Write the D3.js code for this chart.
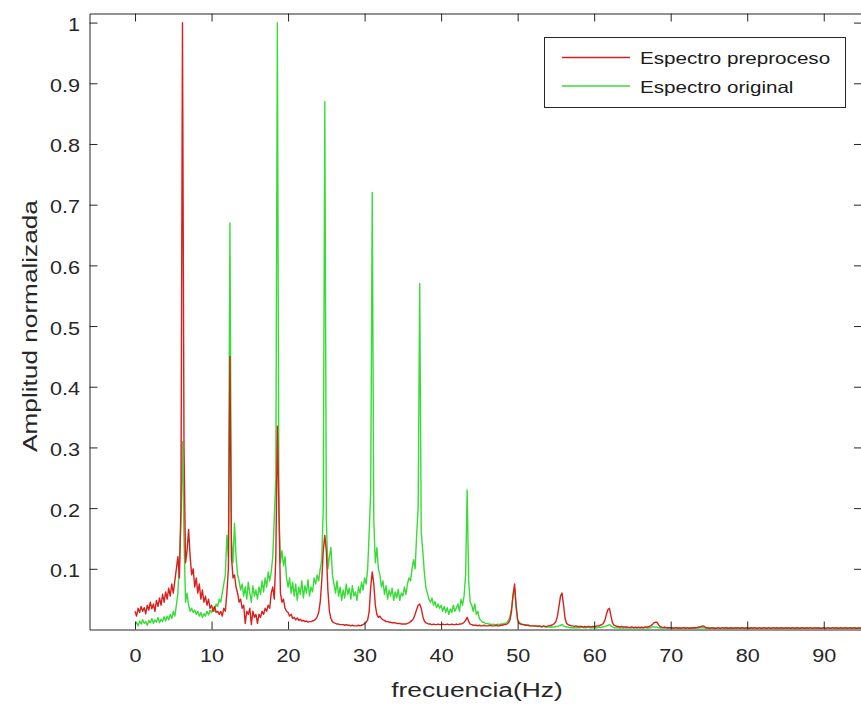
<!DOCTYPE html>
<html>
<head>
<meta charset="utf-8">
<script src="https://cdn.jsdelivr.net/npm/d3@7"></script>
<style>
  body { margin: 0; background: #fff; }
  svg { display: block; font-family: "Liberation Sans", Arial, sans-serif; }
</style>
</head>
<body>
<div id="chart"></div>
<script>
// ---------------------------------------------------------- //
// Data: normalized spectra sampled every 0.2 Hz, 0 .. 95 Hz   //
// ---------------------------------------------------------- //
var fStep = 0.2;

var preproceso = [
  0.030,0.022,0.035,0.028,0.038,0.030,0.036,0.026,0.040,0.032, // 0
  0.045,0.034,0.042,0.030,0.048,0.038,0.052,0.040,0.058,0.045, // 2
  0.062,0.050,0.068,0.055,0.075,0.060,0.080,0.100,0.120,0.085, // 4
  0.200,1.000,0.300,0.110,0.130,0.165,0.120,0.090,0.100,0.070, // 6
  0.085,0.060,0.075,0.050,0.065,0.045,0.055,0.040,0.050,0.035, // 8
  0.040,0.030,0.038,0.028,0.030,0.025,0.030,0.022,0.035,0.030, // 10
  0.060,0.100,0.450,0.120,0.085,0.090,0.070,0.060,0.045,0.050, // 12
  0.035,0.040,0.010,0.030,0.025,0.035,0.008,0.030,0.020,0.025, // 14
  0.010,0.025,0.020,0.030,0.025,0.035,0.030,0.040,0.035,0.060, // 16
  0.070,0.050,0.120,0.335,0.200,0.060,0.045,0.050,0.035,0.030, // 18
  0.028,0.022,0.025,0.018,0.020,0.016,0.019,0.015,0.017,0.014, // 20
  0.015,0.013,0.014,0.012,0.013,0.013,0.014,0.015,0.017,0.021, // 22
  0.028,0.045,0.080,0.130,0.155,0.130,0.065,0.030,0.018,0.013, // 24
  0.011,0.010,0.009,0.009,0.008,0.008,0.008,0.007,0.008,0.007, // 26
  0.007,0.006,0.007,0.006,0.006,0.006,0.007,0.006,0.007,0.008, // 28
  0.010,0.012,0.016,0.030,0.070,0.095,0.075,0.040,0.025,0.020, // 30
  0.022,0.018,0.016,0.015,0.013,0.013,0.012,0.012,0.011,0.011, // 32
  0.011,0.010,0.010,0.010,0.009,0.009,0.009,0.009,0.010,0.011, // 34
  0.013,0.015,0.018,0.025,0.033,0.040,0.042,0.035,0.022,0.014, // 36
  0.011,0.010,0.009,0.009,0.008,0.009,0.008,0.008,0.009,0.008, // 38
  0.008,0.009,0.008,0.008,0.009,0.008,0.008,0.009,0.008,0.008, // 40
  0.009,0.008,0.009,0.009,0.010,0.012,0.015,0.020,0.013,0.009, // 42
  0.008,0.007,0.007,0.007,0.006,0.007,0.006,0.006,0.007,0.006, // 44
  0.006,0.006,0.007,0.006,0.006,0.006,0.007,0.006,0.006,0.007, // 46
  0.007,0.008,0.008,0.009,0.011,0.016,0.030,0.058,0.075,0.040, // 48
  0.016,0.010,0.009,0.008,0.008,0.007,0.007,0.007,0.006,0.006, // 50
  0.006,0.006,0.006,0.005,0.006,0.005,0.005,0.006,0.005,0.005, // 52
  0.006,0.006,0.007,0.008,0.010,0.013,0.022,0.038,0.055,0.060, // 54
  0.040,0.018,0.010,0.008,0.007,0.006,0.006,0.005,0.006,0.005, // 56
  0.005,0.005,0.005,0.004,0.005,0.004,0.005,0.005,0.004,0.005, // 58
  0.005,0.005,0.006,0.006,0.007,0.008,0.010,0.015,0.025,0.033, // 60
  0.035,0.022,0.011,0.007,0.006,0.005,0.005,0.004,0.005,0.004, // 62
  0.004,0.004,0.004,0.003,0.004,0.004,0.003,0.004,0.003,0.004, // 64
  0.003,0.004,0.003,0.004,0.004,0.004,0.005,0.006,0.008,0.011, // 66
  0.012,0.012,0.008,0.005,0.004,0.003,0.004,0.003,0.003,0.003, // 68
  0.003,0.003,0.002,0.003,0.003,0.002,0.003,0.002,0.003,0.003, // 70
  0.002,0.003,0.002,0.003,0.002,0.003,0.003,0.003,0.004,0.004, // 72
  0.005,0.006,0.005,0.003,0.003,0.002,0.002,0.003,0.002,0.002, // 74
  0.002,0.003,0.002,0.002,0.003,0.002,0.003,0.002,0.002,0.003, // 76
  0.002,0.002,0.003,0.002,0.003,0.002,0.002,0.003,0.002,0.002, // 78
  0.003,0.002,0.002,0.003,0.002,0.003,0.002,0.002,0.003,0.002, // 80
  0.002,0.003,0.002,0.002,0.003,0.002,0.002,0.003,0.002,0.003, // 82
  0.002,0.002,0.003,0.002,0.002,0.003,0.002,0.003,0.002,0.002, // 84
  0.003,0.002,0.002,0.003,0.002,0.002,0.003,0.002,0.002,0.003, // 86
  0.002,0.003,0.002,0.002,0.003,0.002,0.003,0.002,0.002,0.002, // 88
  0.003,0.002,0.002,0.003,0.002,0.002,0.003,0.002,0.003,0.002, // 90
  0.002,0.003,0.002,0.002,0.003,0.002,0.002,0.003,0.002,0.002, // 92
  0.003,0.002,0.002,0.003,0.002,0.002                          // 94
];

var original = [
  0.008,0.012,0.006,0.014,0.009,0.016,0.010,0.013,0.007,0.015, // 0
  0.011,0.018,0.010,0.016,0.012,0.020,0.011,0.017,0.013,0.021, // 2
  0.014,0.022,0.016,0.025,0.018,0.030,0.022,0.040,0.060,0.110, // 4
  0.180,0.310,0.150,0.045,0.060,0.040,0.030,0.035,0.028,0.032, // 6
  0.025,0.030,0.022,0.028,0.020,0.026,0.022,0.030,0.024,0.032, // 8
  0.028,0.036,0.030,0.042,0.038,0.050,0.045,0.060,0.075,0.090, // 10
  0.155,0.120,0.670,0.150,0.110,0.175,0.120,0.090,0.080,0.065, // 12
  0.075,0.055,0.070,0.050,0.078,0.060,0.045,0.072,0.055,0.065, // 14
  0.050,0.070,0.058,0.080,0.062,0.085,0.070,0.095,0.080,0.095, // 16
  0.120,0.185,0.250,1.000,0.200,0.110,0.130,0.105,0.120,0.085, // 18
  0.070,0.085,0.060,0.078,0.055,0.075,0.048,0.070,0.058,0.080, // 20
  0.052,0.072,0.060,0.082,0.055,0.070,0.062,0.085,0.075,0.090, // 22
  0.080,0.100,0.115,0.200,0.870,0.180,0.100,0.120,0.135,0.090, // 24
  0.075,0.060,0.080,0.055,0.070,0.048,0.065,0.052,0.075,0.058, // 26
  0.068,0.050,0.072,0.055,0.062,0.048,0.070,0.060,0.078,0.065, // 28
  0.085,0.075,0.100,0.160,0.230,0.720,0.180,0.110,0.135,0.100, // 30
  0.090,0.070,0.080,0.058,0.072,0.050,0.065,0.055,0.068,0.048, // 32
  0.062,0.052,0.066,0.048,0.060,0.055,0.070,0.058,0.075,0.085, // 34
  0.080,0.100,0.115,0.100,0.155,0.200,0.570,0.160,0.130,0.095, // 36
  0.070,0.060,0.050,0.045,0.052,0.040,0.046,0.036,0.042,0.035, // 38
  0.040,0.030,0.038,0.028,0.036,0.025,0.034,0.028,0.040,0.030, // 40
  0.036,0.042,0.030,0.050,0.040,0.055,0.090,0.230,0.080,0.045, // 42
  0.040,0.030,0.042,0.025,0.030,0.018,0.015,0.012,0.012,0.010, // 44
  0.010,0.009,0.009,0.008,0.009,0.008,0.008,0.009,0.008,0.009, // 46
  0.009,0.010,0.010,0.012,0.015,0.022,0.035,0.055,0.067,0.035, // 48
  0.015,0.012,0.010,0.009,0.008,0.008,0.007,0.007,0.006,0.006, // 50
  0.006,0.005,0.006,0.005,0.005,0.005,0.004,0.005,0.004,0.004, // 52
  0.004,0.004,0.004,0.004,0.004,0.005,0.005,0.006,0.007,0.008, // 54
  0.006,0.005,0.004,0.004,0.003,0.003,0.003,0.003,0.003,0.003, // 56
  0.003,0.003,0.004,0.003,0.003,0.003,0.004,0.003,0.003,0.003, // 58
  0.003,0.003,0.003,0.004,0.003,0.004,0.004,0.005,0.006,0.007, // 60
  0.008,0.006,0.004,0.003,0.003,0.003,0.003,0.002,0.003,0.002, // 62
  0.003,0.002,0.003,0.003,0.002,0.003,0.002,0.003,0.002,0.003, // 64
  0.002,0.003,0.002,0.003,0.003,0.002,0.003,0.003,0.004,0.004, // 66
  0.004,0.004,0.003,0.003,0.002,0.003,0.002,0.003,0.002,0.002, // 68
  0.003,0.002,0.002,0.003,0.002,0.003,0.002,0.002,0.003,0.002, // 70
  0.002,0.003,0.002,0.002,0.003,0.002,0.002,0.003,0.002,0.003, // 72
  0.003,0.003,0.003,0.002,0.002,0.003,0.002,0.002,0.003,0.002, // 74
  0.002,0.003,0.002,0.002,0.003,0.002,0.002,0.003,0.002,0.002, // 76
  0.003,0.002,0.002,0.003,0.002,0.002,0.003,0.002,0.002,0.003, // 78
  0.002,0.002,0.003,0.002,0.002,0.003,0.002,0.002,0.003,0.002, // 80
  0.002,0.003,0.002,0.002,0.003,0.002,0.002,0.003,0.002,0.002, // 82
  0.003,0.002,0.002,0.003,0.002,0.002,0.003,0.002,0.002,0.003, // 84
  0.002,0.002,0.003,0.002,0.002,0.003,0.002,0.002,0.003,0.002, // 86
  0.002,0.003,0.002,0.002,0.003,0.002,0.002,0.003,0.002,0.002, // 88
  0.003,0.002,0.002,0.003,0.002,0.002,0.003,0.002,0.002,0.003, // 90
  0.002,0.002,0.003,0.002,0.002,0.003,0.002,0.002,0.003,0.002, // 92
  0.002,0.003,0.002,0.002,0.003,0.002                          // 94
];

var xTicks = [0, 10, 20, 30, 40, 50, 60, 70, 80, 90];
var yTicks = [0.1, 0.2, 0.3, 0.4, 0.5, 0.6, 0.7, 0.8, 0.9, 1];
var seriesNames = ["Espectro preproceso", "Espectro original"];
var xLabel = "frecuencia(Hz)";
var yLabel = "Amplitud normalizada";

// ------------ //
// Canvas setup //
// ------------ //
var W = 861, H = 707;
var box = {left: 89.5, right: 862, top: 13.5, bottom: 629.5};
var axisColor = "#262626";
var red = "#d8201c", green = "#38dc38";

var svg = d3.select("#chart").append("svg")
  .attr("width", W)
  .attr("height", H);

svg.append("rect").attr("width", W).attr("height", H).attr("fill", "#fff");

var x = d3.scaleLinear().domain([-5.95, 95]).range([box.left, box.right]);
var y = d3.scaleLinear().domain([0, 1.015]).range([box.bottom, box.top]);

// clip the traces to the axes box
svg.append("defs").append("clipPath")
    .attr("id", "clip")
  .append("rect")
    .attr("x", box.left).attr("y", box.top)
    .attr("width", box.right - box.left)
    .attr("height", box.bottom - box.top);

// ------ //
// Traces //
// ------ //
var line = d3.line()
  .x(function(d, i) { return x(i * fStep); })
  .y(function(d) { return y(d); });

var traces = svg.append("g").attr("clip-path", "url(#clip)");
// green first so the red trace sits on top, as in the original figure
traces.append("path")
  .datum(original)
  .attr("fill", "none")
  .attr("stroke", green)
  .attr("stroke-width", 1.4)
  .attr("stroke-linejoin", "round")
  .attr("d", line);
traces.append("path")
  .datum(preproceso)
  .attr("fill", "none")
  .attr("stroke", red)
  .attr("stroke-width", 1.4)
  .attr("stroke-linejoin", "round")
  .attr("d", line);

// ---- //
// Axes //
// ---- //
var tickLen = 8;
function styleAxis(g) {
  g.selectAll("path.domain").attr("stroke", axisColor).attr("stroke-width", 1);
  g.selectAll(".tick line").attr("stroke", axisColor).attr("stroke-width", 1);
  g.selectAll("text").attr("fill", axisColor).attr("font-size", 18)
    .attr("font-family", "'Liberation Sans', Arial, sans-serif");
}

var xAxis = svg.append("g")
  .attr("transform", "translate(0," + box.bottom + ")")
  .call(d3.axisBottom(x).tickValues(xTicks).tickSizeInner(-tickLen).tickSizeOuter(0));
styleAxis(xAxis);
xAxis.selectAll("text")
  .attr("y", 0).attr("dy", null)
  .attr("transform", "translate(0,32) scale(1.2,1)");

var xTop = svg.append("g")
  .attr("transform", "translate(0," + box.top + ")")
  .call(d3.axisTop(x).tickValues(xTicks).tickSizeInner(-tickLen).tickSizeOuter(0).tickFormat(""));
styleAxis(xTop);

var yAxis = svg.append("g")
  .attr("transform", "translate(" + box.left + ",0)")
  .call(d3.axisLeft(y).tickValues(yTicks).tickSizeInner(-tickLen).tickSizeOuter(0)
    .tickFormat(function(d) { return d3.format("~g")(d); }));
styleAxis(yAxis);
yAxis.selectAll("text")
  .attr("x", 0).attr("dy", null)
  .attr("transform", "translate(-9.5,8) scale(1.2,1)");

var yRight = svg.append("g")
  .attr("transform", "translate(" + box.right + ",0)")
  .call(d3.axisRight(y).tickValues(yTicks).tickSizeInner(-tickLen).tickSizeOuter(0).tickFormat(""));
styleAxis(yRight);

// ----------- //
// Axis labels //
// ----------- //
svg.append("text")
  .attr("transform", "translate(477,697) scale(1.32,1)")
  .attr("text-anchor", "middle")
  .attr("font-size", 20)
  .attr("fill", axisColor)
  .text(xLabel);

svg.append("text")
  .attr("transform", "translate(37,326) rotate(-90) scale(1.31,1)")
  .attr("text-anchor", "middle")
  .attr("font-size", 20)
  .attr("fill", axisColor)
  .text(yLabel);

// ------ //
// LEGEND //
// ------ //
var legend = svg.append("g");
legend.append("rect")
  .attr("x", 544.5).attr("y", 37.5)
  .attr("width", 301).attr("height", 70)
  .attr("fill", "#fff")
  .attr("stroke", axisColor)
  .attr("stroke-width", 1);

var legendColors = [red, green];
var legendRows = legend.selectAll("g.row")
  .data(seriesNames)
  .enter()
  .append("g")
    .attr("class", "row")
    .attr("transform", function(d, i) { return "translate(0," + (57.5 + i * 28.5) + ")"; });
legendRows.append("line")
  .attr("x1", 562).attr("x2", 630)
  .attr("y1", 0).attr("y2", 0)
  .attr("stroke", function(d, i) { return legendColors[i]; })
  .attr("stroke-width", 1.4);
legendRows.append("text")
  .attr("transform", "translate(640,6.5) scale(1.25,1)")
  .attr("font-size", 16.5)
  .attr("fill", "#1a1a1a")
  .text(function(d) { return d; });
</script>
</body>
</html>
